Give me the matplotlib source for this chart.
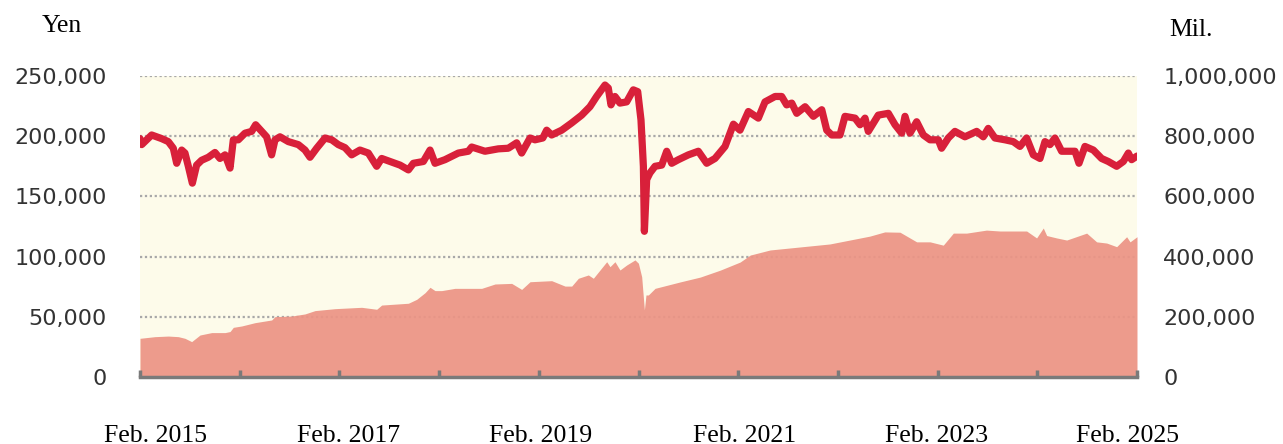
import matplotlib
matplotlib.use("Agg")
import matplotlib.pyplot as plt
from matplotlib.ticker import FuncFormatter

# --- data ---
# x is years since Feb. 2015
price_t = [0.0, 0.017, 0.117, 0.217, 0.284, 0.334, 0.368, 0.418, 0.451, 0.485,
           0.525, 0.568, 0.618, 0.685, 0.752, 0.802, 0.853, 0.903, 0.936, 0.986,
           1.053, 1.12, 1.16, 1.22, 1.27, 1.32, 1.354, 1.404, 1.488, 1.588,
           1.655, 1.705, 1.772, 1.856, 1.923, 1.989, 2.056, 2.123, 2.206, 2.29,
           2.374, 2.424, 2.508, 2.608, 2.692, 2.742, 2.842, 2.909, 2.959, 3.059,
           3.193, 3.293, 3.327, 3.46, 3.594, 3.694, 3.778, 3.828, 3.912, 3.962,
           4.04, 4.079, 4.129, 4.23, 4.33, 4.43, 4.513, 4.58, 4.664, 4.697,
           4.724, 4.764, 4.814, 4.881, 4.948, 4.992, 5.025, 5.049, 5.059, 5.082,
           5.115, 5.166, 5.233, 5.283, 5.333, 5.4, 5.5, 5.6, 5.684, 5.767,
           5.868, 5.952, 6.018, 6.102, 6.202, 6.269, 6.37, 6.436, 6.486, 6.537,
           6.587, 6.671, 6.754, 6.838, 6.888, 6.938, 7.021, 7.071, 7.172, 7.222,
           7.272, 7.305, 7.405, 7.506, 7.573, 7.64, 7.673, 7.723, 7.79, 7.857,
           7.924, 8.007, 8.04, 8.107, 8.174, 8.274, 8.392, 8.458, 8.508, 8.575,
           8.676, 8.759, 8.826, 8.893, 8.96, 9.027, 9.077, 9.127, 9.177, 9.244,
           9.378, 9.418, 9.478, 9.562, 9.645, 9.712, 9.796, 9.863, 9.913, 9.946,
           10.0]
price_k = [198, 193, 201, 198, 195.5, 190, 177.5, 188.5, 186, 175,
           161, 176, 180, 182.5, 186.5, 181.5, 184.5, 173.5, 197, 197,
           202.5, 204, 209.5, 204, 199.5, 184.5, 197, 199.5, 195.5, 193,
           188.5, 182.5, 190, 198.5, 197, 193, 190.5, 184.5, 188.5, 186,
           175, 181.5, 179, 176, 172, 177.5, 179, 188.5, 177.5, 180.5,
           186, 187.5, 191, 187.5, 189.5, 190, 194.5, 186, 198.5, 197,
           198.5, 205, 201, 205, 211, 217.5, 224.5, 233, 242.5, 240,
           226, 233, 227.5, 228.5, 238.5, 237, 213.5, 175, 121, 164,
           169.5, 175, 176, 187.5, 177.5, 180.5, 184.5, 187.5, 177.5, 181.5,
           191.5, 210, 205, 220.5, 215, 228.5, 233, 233, 226, 227.5,
           219, 224.5, 216.5, 222, 205, 201, 201, 216.5, 215, 209.5,
           215, 204, 217.5, 219, 209.5, 202.5, 216.5, 202.5, 212, 201,
           197, 197, 190, 198.5, 204, 199.5, 204, 199.5, 206.5, 198.5,
           197, 195.5, 191.5, 198.5, 184.5, 181.5, 195.5, 193, 198.5, 187.5,
           187.5, 177.5, 191.5, 188.5, 181.5, 179, 175, 179, 186, 180.5,
           183.5]

assets_t = [0.0, 0.15, 0.284, 0.384, 0.451, 0.518, 0.602, 0.719, 0.853, 0.903,
            0.936, 1.02, 1.154, 1.321, 1.354, 1.521, 1.655, 1.755, 1.956, 2.223,
            2.374, 2.424, 2.692, 2.775, 2.859, 2.909, 2.959, 3.026, 3.159, 3.427,
            3.561, 3.728, 3.828, 3.912, 4.129, 4.263, 4.33, 4.397, 4.497, 4.547,
            4.614, 4.681, 4.714, 4.764, 4.814, 4.881, 4.965, 4.999, 5.032, 5.059,
            5.075, 5.099, 5.166, 5.42, 5.62, 5.82, 6.02, 6.12, 6.32, 6.62,
            6.92, 7.12, 7.32, 7.47, 7.623, 7.79, 7.924, 8.057, 8.158, 8.291,
            8.49, 8.626, 8.893, 8.993, 9.06, 9.094, 9.194, 9.295, 9.495, 9.595,
            9.696, 9.796, 9.896, 9.93, 10.0]
assets_k = [128.5, 134, 136, 134, 128.5, 117.5, 139.5, 147.5, 147.5, 151,
            165, 169.5, 180.5, 189.5, 200.5, 202.5, 209.5, 220.5, 227, 231.5,
            225, 239, 245, 258, 280, 298, 287, 287, 294.5, 294.5,
            309, 311, 291, 316.5, 320, 302, 302, 328, 339, 328,
            355.5, 383, 366.5, 383, 355.5, 372, 389, 378, 333, 223,
            272.5, 272.5, 294.5, 316, 332, 355, 382, 405, 422, 432,
            442, 455, 468, 482, 481, 449, 449, 438, 478, 478,
            488, 485, 485, 462, 495, 470, 462, 455, 478, 449,
            445, 433, 466, 449, 466]

year_ticks = [0, 1, 2, 3, 4, 5, 6, 7, 8, 9, 10]
date_labels = ["Feb. 2015", "Feb. 2017", "Feb. 2019", "Feb. 2021", "Feb. 2023", "Feb. 2025"]

price = [v * 1000 for v in price_k]
assets = [v * 1000 for v in assets_k]

RED = "#d8203a"
SALMON = "#ec9485"
CREAM = "#fdfbea"
GRID = "#a8a8a8"
AXIS = "#7a7a7a"
TXT = "#333333"

W, H = 1283, 444
fig = plt.figure(figsize=(W / 100, H / 100), dpi=100)
ax = fig.add_axes([140 / W, (H - 377) / H, 997 / W, 301 / H])
ax2 = ax.twinx()

# right axis (net assets) sits underneath the price line
ax.set_zorder(ax2.get_zorder() + 1)
ax.patch.set_visible(False)
ax2.patch.set_visible(True)
ax2.patch.set_facecolor(CREAM)

ax2.fill_between(assets_t, assets, 0, color=SALMON, lw=0, alpha=0.93, zorder=2)
ax2.set_ylim(0, 1000000)
ax2.set_yticks(range(0, 1000001, 200000))
ax2.yaxis.set_major_formatter(FuncFormatter(lambda v, p: f"{int(v):,}"))
ax2.grid(axis="y", color=GRID, lw=1.6, linestyle=(0, (1, 1.2)))
ax2.set_axisbelow(True)
ax2.tick_params(axis="y", length=0, pad=19, labelsize=16, labelcolor=TXT)

ax.plot(price_t, price, color=RED, lw=5.2, solid_joinstyle="round",
        solid_capstyle="round", zorder=5)
ax.set_ylim(0, 250000)
ax.set_yticks(range(0, 250001, 50000))
ax.yaxis.set_major_formatter(FuncFormatter(lambda v, p: f"{int(v):,}"))
ax.tick_params(axis="y", length=0, pad=24, labelsize=16, labelcolor=TXT)

ax.set_xlim(0, 10)
ax.set_xticks(year_ticks)
ax.set_xticklabels([])
ax.tick_params(axis="x", direction="in", length=5, width=2.5, color=AXIS)

for a in (ax, ax2):
    for s in ("top", "left", "right"):
        a.spines[s].set_visible(False)
ax2.spines["bottom"].set_visible(False)
ax.spines["bottom"].set_color(AXIS)
ax.spines["bottom"].set_linewidth(2.5)

serif = "Liberation Serif"
label_x = [156, 349, 541, 745, 937, 1128]
for lab, px in zip(date_labels, label_x):
    fig.text(px / W, (H - 441.5) / H, lab, ha="center", va="baseline",
             fontsize=18.5, family=serif, color="black")

fig.text(61.5 / W, (H - 32) / H, "Yen", ha="center", va="baseline",
         fontsize=18.5, family=serif, color="black")
fig.text(1191 / W, (H - 36.5) / H, "Mil.", ha="center", va="baseline",
         fontsize=18.5, family=serif, color="black")

fig.savefig("out.png", dpi=100, facecolor="white")
